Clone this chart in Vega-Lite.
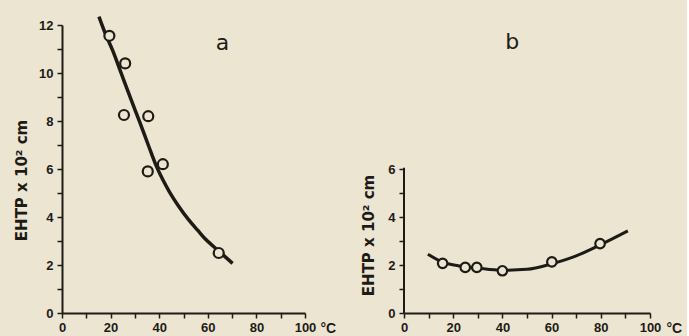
{
  "$schema": "https://vega.github.io/schema/vega-lite/v6.json",
  "background": "#ece5d2",
  "padding": {"left": 14, "top": 9, "right": 5, "bottom": 2},
  "spacing": 99,
  "bounds": "flush",
  "datasets": {
    "pa": [{"t":19.5,"e":11.55},{"t":26,"e":10.4},{"t":25.5,"e":8.25},{"t":35.5,"e":8.2},{"t":35.3,"e":5.9},{"t":41.5,"e":6.2},{"t":64.5,"e":2.5}],
    "ca": [{"t":15.2,"e":12.35},{"t":18,"e":11.6},{"t":20.8,"e":10.95},{"t":24.5,"e":9.95},{"t":28.4,"e":8.9},{"t":32,"e":7.95},{"t":35.5,"e":7.0},{"t":38.7,"e":6.15},{"t":41.5,"e":5.55},{"t":44.2,"e":5.05},{"t":48,"e":4.45},{"t":52,"e":3.9},{"t":55.8,"e":3.45},{"t":59,"e":3.08},{"t":62.7,"e":2.74},{"t":66.5,"e":2.4},{"t":70.2,"e":2.07}],
    "pb": [{"t":15.7,"e":2.07},{"t":24.9,"e":1.9},{"t":29.6,"e":1.9},{"t":40,"e":1.76},{"t":60.1,"e":2.13},{"t":79.7,"e":2.89}],
    "cb": [{"t":9.7,"e":2.45},{"t":15.7,"e":2.12},{"t":22,"e":1.97},{"t":30,"e":1.87},{"t":40,"e":1.78},{"t":50,"e":1.82},{"t":60,"e":2.05},{"t":70,"e":2.38},{"t":80,"e":2.85},{"t":91,"e":3.42}],
    "la": [{"t":66,"e":11.25,"lab":"a"}],
    "lb": [{"t":44,"e":11.3,"lab":"b"}],
    "axisb": [{"t":0,"e":0,"to":6.05}]
  },
  "config": {
    "view": {"stroke": null},
    "axis": {"grid": false, "domainColor": "#1e1b17", "domainWidth": 2, "tickColor": "#1e1b17", "tickWidth": 1.5, "tickSize": 5, "labelColor": "#1e1b17", "labelFont": "Liberation Sans", "labelFontSize": 13, "labelFontWeight": "bold", "labelFlush": false, "labelOverlap": false, "titleColor": "#1e1b17", "titleFont": "DejaVu Sans", "titleFontSize": 15, "titleFontWeight": "bold"}
  },
  "hconcat": [
    {
      "width": 243, "height": 288,
      "encoding": {
        "x": {"field": "t", "type": "quantitative", "scale": {"domain": [0, 100], "nice": false},
          "axis": {"values": [0,10,20,30,40,50,60,70,80,90,100], "labelExpr": "datum.value % 20 === 0 ? datum.label : ''", "labelPadding": 3, "title": "°C", "titleFont": "Liberation Sans", "titleFontSize": 14, "titleAlign": "left", "titleBaseline": "middle", "titleX": 258, "titleY": 15}},
        "y": {"field": "e", "type": "quantitative", "scale": {"domain": [0, 12], "nice": false},
          "axis": {"values": [0,1,2,3,4,5,6,7,8,9,10,11,12], "labelExpr": "datum.value % 2 === 0 ? datum.label : ''", "labelPadding": 4, "title": "EHTP x 10² cm", "titlePadding": 9, "titleY": 155}}
      },
      "layer": [
        {"data": {"name": "ca"}, "mark": {"type": "line", "interpolate": "monotone", "strokeWidth": 3.5, "color": "#1e1b17", "clip": false}},
        {"data": {"name": "pa"}, "mark": {"type": "point", "shape": "circle", "size": 100, "filled": true, "fill": "#ece5d2", "fillOpacity": 1, "stroke": "#1e1b17", "strokeWidth": 2.2, "opacity": 1}},
        {"data": {"name": "la"}, "mark": {"type": "text", "font": "DejaVu Sans", "fontSize": 22, "color": "#1e1b17", "baseline": "middle", "align": "center"}, "encoding": {"text": {"field": "lab"}}}
      ]
    },
    {
      "width": 246, "height": 288,
      "encoding": {
        "x": {"field": "t", "type": "quantitative", "scale": {"domain": [0, 100], "nice": false},
          "axis": {"values": [0,10,20,30,40,50,60,70,80,90,100], "labelExpr": "datum.value % 20 === 0 ? datum.label : ''", "labelPadding": 3, "title": "°C", "titleFont": "Liberation Sans", "titleFontSize": 14, "titleAlign": "left", "titleBaseline": "middle", "titleX": 262, "titleY": 15}},
        "y": {"field": "e", "type": "quantitative", "scale": {"domain": [0, 12], "nice": false},
          "axis": {"values": [0,1,2,3,4,5,6], "labelExpr": "datum.value % 2 === 0 ? datum.label : ''", "labelPadding": 4, "domain": false, "title": "EHTP x 10² cm", "titlePadding": 11, "titleY": 210}}
      },
      "layer": [
        {"data": {"name": "axisb"}, "mark": {"type": "rule", "strokeWidth": 2, "color": "#1e1b17"}, "encoding": {"y2": {"field": "to"}}},
        {"data": {"name": "cb"}, "mark": {"type": "line", "interpolate": "monotone", "strokeWidth": 3, "color": "#1e1b17", "clip": false}},
        {"data": {"name": "pb"}, "mark": {"type": "point", "shape": "circle", "size": 90, "filled": true, "fill": "#ece5d2", "fillOpacity": 1, "stroke": "#1e1b17", "strokeWidth": 2.2, "opacity": 1}},
        {"data": {"name": "lb"}, "mark": {"type": "text", "font": "DejaVu Sans", "fontSize": 22, "color": "#1e1b17", "baseline": "middle", "align": "center"}, "encoding": {"text": {"field": "lab"}}}
      ]
    }
  ]
}
